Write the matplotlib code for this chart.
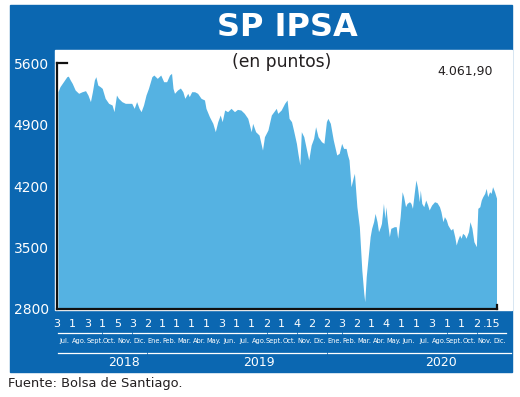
import matplotlib
matplotlib.use("Agg")
import matplotlib.pyplot as plt
import matplotlib.dates as mdates
import matplotlib.transforms as mtransforms
from matplotlib.patches import Rectangle
import pandas as pd

# valores (IPSA, puntos)
fechas = [
    "2018-07-03", "2018-07-07", "2018-07-14", "2018-07-21", "2018-07-24", "2018-07-28",
    "2018-08-01", "2018-08-07", "2018-08-14", "2018-08-21", "2018-08-28",
    "2018-09-02", "2018-09-07", "2018-09-11", "2018-09-15", "2018-09-18", "2018-09-22", "2018-09-27",
    "2018-10-01", "2018-10-07", "2018-10-14", "2018-10-21", "2018-10-25", "2018-10-30",
    "2018-11-03", "2018-11-10", "2018-11-17", "2018-11-23", "2018-11-30",
    "2018-12-05", "2018-12-10", "2018-12-15", "2018-12-19", "2018-12-24", "2018-12-29",
    "2019-01-03", "2019-01-10", "2019-01-14", "2019-01-21", "2019-01-28",
    "2019-02-03", "2019-02-09", "2019-02-15", "2019-02-19", "2019-02-22", "2019-02-25",
    "2019-03-03", "2019-03-09", "2019-03-14", "2019-03-18", "2019-03-24", "2019-03-27",
    "2019-04-01", "2019-04-07", "2019-04-13", "2019-04-20", "2019-04-27", "2019-04-30",
    "2019-05-07", "2019-05-14", "2019-05-19", "2019-05-24", "2019-05-29",
    "2019-06-02", "2019-06-07", "2019-06-13", "2019-06-20", "2019-06-27",
    "2019-07-03", "2019-07-10", "2019-07-17", "2019-07-24", "2019-07-31",
    "2019-08-03", "2019-08-09", "2019-08-16", "2019-08-23", "2019-08-27",
    "2019-09-03", "2019-09-10", "2019-09-15", "2019-09-20", "2019-09-23", "2019-09-30",
    "2019-10-07", "2019-10-12", "2019-10-16", "2019-10-21", "2019-10-25", "2019-10-31",
    "2019-11-03", "2019-11-07", "2019-11-10", "2019-11-15", "2019-11-20", "2019-11-25", "2019-11-30",
    "2019-12-05", "2019-12-09", "2019-12-14", "2019-12-21", "2019-12-26", "2019-12-31",
    "2020-01-03", "2020-01-08", "2020-01-14", "2020-01-21", "2020-01-26", "2020-01-31",
    "2020-02-04", "2020-02-09", "2020-02-12", "2020-02-15", "2020-02-19", "2020-02-24", "2020-02-26",
    "2020-03-02", "2020-03-07", "2020-03-12", "2020-03-16", "2020-03-18", "2020-03-21", "2020-03-25", "2020-03-29",
    "2020-04-01", "2020-04-05", "2020-04-08", "2020-04-12", "2020-04-15", "2020-04-19", "2020-04-21",
    "2020-04-25", "2020-04-28", "2020-04-30",
    "2020-05-03", "2020-05-07", "2020-05-10", "2020-05-17", "2020-05-21", "2020-05-24", "2020-05-29",
    "2020-06-02", "2020-06-05", "2020-06-09", "2020-06-12", "2020-06-17", "2020-06-20", "2020-06-23",
    "2020-06-27", "2020-06-30",
    "2020-07-03", "2020-07-07", "2020-07-09", "2020-07-12", "2020-07-16", "2020-07-20", "2020-07-24", "2020-07-27",
    "2020-08-01", "2020-08-07", "2020-08-12", "2020-08-17", "2020-08-20", "2020-08-24", "2020-08-27", "2020-08-31",
    "2020-09-03", "2020-09-09", "2020-09-13", "2020-09-17", "2020-09-20", "2020-09-23", "2020-09-27", "2020-09-30",
    "2020-10-03", "2020-10-07", "2020-10-10", "2020-10-15", "2020-10-18", "2020-10-22", "2020-10-26", "2020-10-31",
    "2020-11-03", "2020-11-07", "2020-11-10", "2020-11-13", "2020-11-17", "2020-11-20", "2020-11-23",
    "2020-11-27", "2020-11-30",
    "2020-12-03", "2020-12-07", "2020-12-11",
]
valores = [
    5273, 5330, 5387, 5444, 5450, 5406,
    5368, 5292, 5255, 5273, 5285,
    5235, 5160, 5273, 5406, 5444, 5349, 5330,
    5311, 5198, 5141, 5122, 5046, 5235,
    5198, 5160, 5141, 5141, 5141,
    5084, 5160, 5084, 5046, 5122, 5235,
    5311, 5444, 5463, 5425, 5463,
    5387, 5387, 5463, 5482, 5311, 5255,
    5292, 5315, 5273, 5198, 5255, 5217,
    5273, 5273, 5255, 5198, 5179, 5084,
    4989, 4913, 4818, 4932, 5008,
    4932, 5065, 5046, 5084, 5046,
    5072, 5065, 5027, 4970, 4818,
    4913, 4818, 4780, 4609, 4761,
    4837, 5008, 5046, 5084, 5027, 5065,
    5141, 5179, 4970, 4932, 4837, 4685,
    4572, 4439, 4818, 4761, 4628, 4496, 4666,
    4742, 4875, 4761, 4704, 4685, 4932,
    4970, 4913, 4723, 4553, 4572, 4685,
    4628, 4628, 4553, 4496, 4192, 4306, 4344,
    3965, 3737, 3244, 2979, 2883, 3168, 3396, 3624,
    3718, 3794, 3888, 3794, 3680, 3737, 3775,
    4002, 3832, 3964,
    3794, 3624, 3718, 3737, 3737, 3605, 3851,
    4135, 4078, 3964, 4002, 4021, 4002, 3946,
    4135, 4268,
    4192, 4021, 4154, 4002, 3964, 4040, 3983, 3927,
    3983, 4021, 4010, 3964, 3908, 3794, 3851, 3813,
    3756, 3699, 3718, 3624, 3528, 3585, 3642, 3605,
    3661, 3642, 3605, 3680, 3794, 3718, 3566, 3509,
    3946, 3964, 4040, 4078, 4116, 4173, 4078,
    4135, 4116,
    4192, 4135, 4062,
]

meses = ["Jul.", "Ago.", "Sept.", "Oct.", "Nov.", "Dic.",
         "Ene.", "Feb.", "Mar.", "Abr.", "May.", "Jun.", "Jul.", "Ago.", "Sept.", "Oct.", "Nov.", "Dic.",
         "Ene.", "Feb.", "Mar.", "Abr.", "May.", "Jun.", "Jul.", "Ago.", "Sept.", "Oct.", "Nov.", "Dic."]
dias = ["3", "1", "3", "1", "5", "3",
        "2", "1", "1", "1", "1", "3", "1", "1", "2", "1", "4", "2",
        "2", "3", "2", "1", "4", "1", "1", "3", "1", "1", "2", ".15"]
anios = ["2018", "2019", "2020"]
yticks = [2800, 3500, 4200, 4900, 5600]
ultimo = "4.061,90"

AZUL = "#0b67b1"
CELESTE = "#55b2e2"
NARROW = ["Liberation Sans Narrow", "DejaVu Sans"]

W, H = 520, 397


def fx(px):
    return px / W


def fy(py):
    return 1 - py / H


fig = plt.figure(figsize=(W / 100, H / 100), dpi=100)
fig.patch.set_facecolor("white")

# panel azul y zona blanca del grafico
fig.patches.append(Rectangle((fx(10), fy(372)), (512 - 10) / W, (372 - 5) / H,
                             transform=fig.transFigure, color=AZUL, zorder=0))
fig.patches.append(Rectangle((fx(55), fy(310)), (512 - 55) / W, (310 - 50) / H,
                             transform=fig.transFigure, color="white", zorder=0.5))

ax = fig.add_axes([fx(57), fy(309), 440 / W, 246 / H])
ax.set_zorder(2)
ax.patch.set_visible(False)

x = pd.to_datetime(fechas)
ax.fill_between(x, valores, yticks[0], color=CELESTE, lw=0)
ax.set_xlim(pd.Timestamp("2018-07-01"), x[-1] + pd.Timedelta(days=1))
ax.set_ylim(yticks[0], yticks[-1])
ax.set_yticks(yticks)
ax.tick_params(axis="y", length=0, pad=6, labelcolor="white", labelsize=10)
ax.set_xticks([])
for s in ["top", "right"]:
    ax.spines[s].set_visible(False)
for s in ["left", "bottom"]:
    ax.spines[s].set_linewidth(1.6)
    ax.spines[s].set_color("#111111")

# marca superior del eje y y marca final del eje x
ax.plot([0, 10 / 440], [1, 1], transform=ax.transAxes, color="#111111", lw=1.6, clip_on=False)
ax.plot([1, 1], [0, 4 / 246], transform=ax.transAxes, color="#111111", lw=1.6, clip_on=False)

# rotulos del eje x (dias, meses, anios)
trans = mtransforms.blended_transform_factory(ax.transData, fig.transFigure)
inicios = pd.date_range("2018-07-01", periods=len(meses) + 1, freq="MS")
for i in range(len(meses)):
    a = mdates.date2num(inicios[i])
    b = mdates.date2num(inicios[i + 1])
    ax.text(a, fy(324), dias[i], transform=trans, ha="center", va="center",
            color="white", fontsize=8, family=NARROW, clip_on=False)
    ax.plot([a + 1.5, b - 1.5], [fy(333), fy(333)], transform=trans,
            color="white", lw=0.9, clip_on=False)
    ax.text((a + b) / 2, fy(341), meses[i], transform=trans, ha="center", va="center",
            color="white", fontsize=4.8, family=NARROW, clip_on=False)

for anio in anios:
    a = mdates.date2num(max(pd.Timestamp(anio + "-01-01"), inicios[0])) + 1.5
    b = mdates.date2num(pd.Timestamp(anio + "-12-31")) - 1.5
    if anio == anios[-1]:
        b += 10
    ax.plot([a, b], [fy(353), fy(353)], transform=trans, color="white", lw=0.9, clip_on=False)
    ax.text((a + b) / 2 + 45, fy(362), anio, transform=trans, ha="center", va="center",
            color="white", fontsize=9, family=NARROW, clip_on=False)

# textos
fig.text(fx(287), fy(28), "SP IPSA", ha="center", va="center", color="white",
         fontsize=23, fontweight="bold")
fig.text(fx(282), fy(62), "(en puntos)", ha="center", va="center", color="#231f20", fontsize=12.3)
fig.text(fx(465), fy(72), ultimo, ha="center", va="center", color="#231f20", fontsize=9)
fig.text(fx(8), fy(383), "Fuente: Bolsa de Santiago.", ha="left", va="center",
         color="#231f20", fontsize=9.4)

fig.savefig("out.png", dpi=100)
